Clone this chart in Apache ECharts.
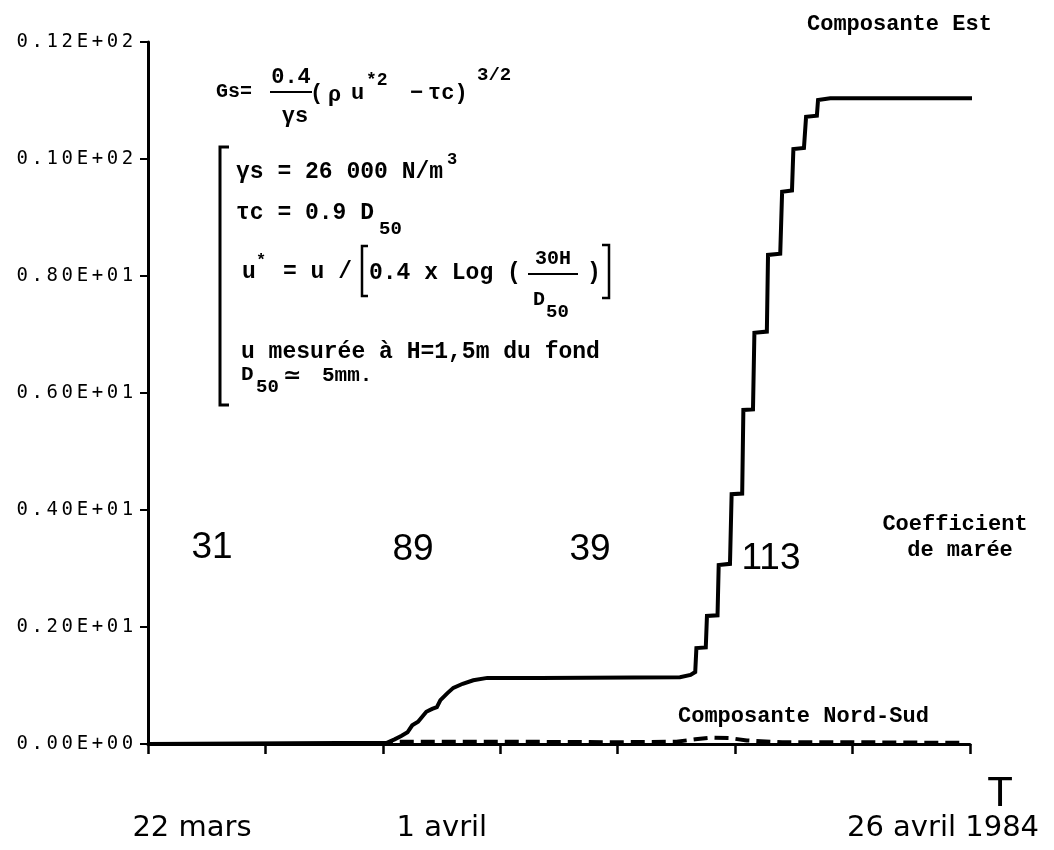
<!DOCTYPE html>
<html><head><meta charset="utf-8">
<script src="https://cdn.jsdelivr.net/npm/echarts@6/dist/echarts.min.js"></script>
<style>html,body{margin:0;padding:0;background:#fff}#c{width:1054px;height:850px}</style>
</head><body><div id="c"></div><script>
// Days since 22 March 1984
const estDays   = [0, 10.17, 10.5, 10.8, 11.05, 11.25, 11.5, 11.85, 12.1, 12.3, 12.45, 12.75, 13.0, 13.4, 13.85, 14.45, 16.7, 22.65, 23.1, 23.3, 23.35, 23.75, 23.8, 24.25, 24.3, 24.78, 24.85, 25.3, 25.35, 25.76, 25.82, 26.35, 26.4, 26.92, 27.0, 27.42, 27.48, 27.93, 28.02, 28.48, 28.53, 29.05, 35.2];
const estValues = [0, 0.02, 0.08, 0.14, 0.2, 0.32, 0.38, 0.55, 0.6, 0.63, 0.75, 0.87, 0.96, 1.03, 1.09, 1.13, 1.13, 1.14, 1.18, 1.23, 1.64, 1.65, 2.19, 2.2, 3.06, 3.08, 4.27, 4.28, 5.71, 5.72, 7.03, 7.05, 8.36, 8.38, 9.44, 9.46, 10.17, 10.19, 10.72, 10.74, 11.01, 11.04, 11.04];
const nsDays    = [0, 10.0, 10.5, 15, 20, 22.5, 23.3, 24.0, 24.8, 25.5, 27, 30, 34.7];
const nsValues  = [0, 0.0, 0.04, 0.04, 0.03, 0.04, 0.08, 0.11, 0.1, 0.06, 0.03, 0.03, 0.02];
const yTickLabels = ['0.00E+00', '0.20E+01', '0.40E+01', '0.60E+01', '0.80E+01', '0.10E+02', '0.12E+02'];
const xLabelDays  = [0, 10, 35];
const xLabelTexts = ['22 mars', '1 avril', '26 avril 1984'];
const tideCoefs   = ['31', '89', '39', '113'];

const chart = echarts.init(document.getElementById('c'), null, {renderer: 'canvas'});
const TW = '"Liberation Mono", "DejaVu Sans Mono", monospace';
function t(text, x, y, size, opts) {
  opts = opts || {};
  return {type: 'text', x: x, y: y, z: 10, style: Object.assign({
    text: text, fill: '#000',
    font: (opts.weight || 'bold') + ' ' + size + 'px ' + (opts.family || TW),
    textAlign: opts.align || 'left', align: opts.align || 'left',
    textVerticalAlign: 'middle', verticalAlign: 'middle'
  }, opts.style || {})};
}
function ln(x1, y1, x2, y2, w) {
  return {type: 'line', z: 10, shape: {x1, y1, x2, y2}, style: {stroke: '#000', lineWidth: w || 2}};
}
function pl(points, w) {
  return {type: 'polyline', z: 10, shape: {points}, style: {stroke: '#000', fill: null, lineWidth: w || 3}};
}
const SANS = '"Liberation Sans", Arial, sans-serif';
const graphics = [
  t('Composante Est', 807, 24, 22),
  t('Composante Nord-Sud', 678, 716, 22),
  t('Coefficient', 955, 524, 22, {align: 'center'}),
  t('de marée', 960, 550, 22, {align: 'center'}),
  t(tideCoefs[0], 212, 548, 37, {weight: 'normal', family: SANS, align: 'center'}),
  t(tideCoefs[1], 413, 550, 37, {weight: 'normal', family: SANS, align: 'center'}),
  t(tideCoefs[2], 590, 550, 37, {weight: 'normal', family: SANS, align: 'center'}),
  t(tideCoefs[3], 771, 559, 37, {weight: 'normal', family: SANS, align: 'center'}),
  t('T', 1000, 794, 42, {weight: 'normal', family: SANS, align: 'center'}),
  // formula row 1
  t('Gs=', 216, 92, 20),
  t('0.4', 291, 77, 22, {align: 'center'}),
  ln(270, 92, 312, 92, 2),
  t('γs', 295, 116, 22, {align: 'center'}),
  t('(', 310, 93, 22),
  t('ρ', 328, 95, 22),
  t('u', 351, 93, 22),
  t('*2', 366, 80, 18),
  t('−', 410, 93, 22),
  t('τc)', 428, 93, 22),
  t('3/2', 477, 75, 19),
  // bracket block
  pl([[229, 147], [220, 147], [220, 405], [229, 405]], 3),
  t('γs = 26 000 N/m', 236, 172, 23),
  t('3', 447, 160, 17),
  t('τc = 0.9 D', 236, 213, 23),
  t('50', 379, 229, 19),
  t('u', 242, 272, 23),
  t('*', 256, 261, 17),
  t('= u /', 283, 272, 23),
  pl([[368, 246], [362, 246], [362, 296], [368, 296]], 2.5),
  t('0.4 x Log (', 369, 273, 23),
  t('30H', 553, 259, 20, {align: 'center'}),
  ln(528, 274, 578, 274, 2),
  t('D', 533, 300, 20),
  t('50', 546, 312, 19),
  t(')', 587, 273, 23),
  pl([[602, 245], [609, 245], [609, 298], [602, 298]], 2.5),
  t('u mesurée à H=1,5m du fond', 241, 352, 23),
  t('D', 241, 375, 21),
  t('50', 256, 387, 19),
  t('≃', 283, 376, 22, {family: '"DejaVu Sans", sans-serif'}),
  t('5mm.', 322, 376, 21)
];

const option = {
  animation: false,
  backgroundColor: '#fff',
  grid: {left: 148, right: 84, top: 42, bottom: 106, containLabel: false, outerBoundsMode: 'none'},
  xAxis: {
    type: 'value', min: 0, max: 35, interval: 5, offset: 54,
    axisLine: {show: true, lineStyle: {color: '#000', width: 3}},
    axisTick: {show: true, length: 10, lineStyle: {color: '#000', width: 2.5}},
    splitLine: {show: false},
    axisLabel: {
      margin: 16, showMinLabel: true, showMaxLabel: true,
      formatter: function (v) {
        const i = xLabelDays.indexOf(Math.round(v));
        return i < 0 ? '' : '{x' + i + '|' + xLabelTexts[i] + '}';
      },
      rich: {
        x0: {fontFamily: '"DejaVu Sans", sans-serif', fontSize: 29, color: '#000', padding: [0, 0, 0, 88]},
        x1: {fontFamily: '"DejaVu Sans", sans-serif', fontSize: 29, color: '#000', padding: [0, 0, 0, 118]},
        x2: {fontFamily: '"DejaVu Sans", sans-serif', fontSize: 29, color: '#000', padding: [0, 54, 0, 0]}
      }
    }
  },
  yAxis: {
    type: 'value', min: 0, max: 12, interval: 2,
    axisLine: {show: true, lineStyle: {color: '#000', width: 3}},
    axisTick: {show: true, length: 8, lineStyle: {color: '#000', width: 2}},
    splitLine: {show: false},
    axisLabel: {
      margin: 13,
      formatter: function (v) {
        return yTickLabels[Math.round(v / 2)].split('').map(function (c) { return '{c|' + c + '}'; }).join('');
      },
      rich: {c: {fontFamily: '"DejaVu Sans Mono", monospace', fontSize: 19, color: '#000', padding: [0, 1.8, 0, 1.8]}}
    }
  },
  series: [
    {
      name: 'Composante Nord-Sud', type: 'line', showSymbol: false, clip: false,
      data: nsDays.map(function (d, i) { return [d, nsValues[i]]; }),
      lineStyle: {color: '#000', width: 4, type: [14, 7]}, z: 2
    },
    {
      name: 'Composante Est', type: 'line', showSymbol: false, clip: false,
      data: estDays.map(function (d, i) { return [d, estValues[i]]; }),
      lineStyle: {color: '#000', width: 4, join: 'miter'}, z: 3
    }
  ],
  graphic: graphics
};
chart.setOption(option);
</script></body></html>
